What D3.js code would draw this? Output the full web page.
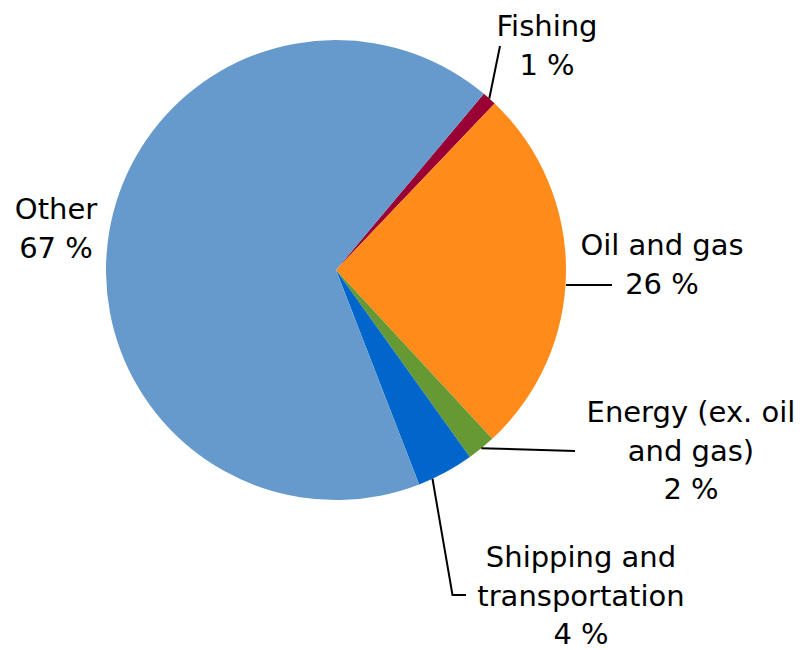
<!DOCTYPE html>
<html>
<head>
<meta charset="utf-8">
<script src="https://cdn.jsdelivr.net/npm/d3@7"></script>
<style>
  html, body { margin: 0; padding: 0; background: #fff; }
  svg { display: block; }
  text { font-family: "DejaVu Sans", Verdana, sans-serif; font-size: 29px; fill: #000; }
</style>
</head>
<body>
<svg id="chart" width="806" height="650"></svg>
<script>
// Sectors, in clockwise order from the first slice
const categories = ["Fishing", "Oil and gas", "Energy (ex. oil and gas)", "Shipping and transportation", "Other"];
const shares = [1, 26, 2, 4, 67];
const colors = ["#990033", "#FF8C1A", "#669933", "#0066CC", "#6699CC"];

// Label text lines (category part) per sector
const labelLines = [
  ["Fishing"],
  ["Oil and gas"],
  ["Energy (ex. oil", "and gas)"],
  ["Shipping and", "transportation"],
  ["Other"]
];

const width = 806, height = 650;
const cx = 336, cy = 270, radius = 230;
const startDeg = 40;

const svg = d3.select("#chart");
const g = svg.append("g").attr("transform", `translate(${cx},${cy})`);

const pie = d3.pie()
  .value(d => d.value)
  .sort(null)
  .startAngle(startDeg * Math.PI / 180)
  .endAngle((startDeg + 360) * Math.PI / 180);

const data = categories.map((c, i) => ({ name: c, value: shares[i], color: colors[i], lines: labelLines[i] }));
const arcs = pie(data);

const arc = d3.arc().innerRadius(0).outerRadius(radius);

g.selectAll("path.slice")
  .data(arcs)
  .join("path")
  .attr("class", "slice")
  .attr("d", arc)
  .attr("fill", d => d.data.color);

// Label placement: centre x and first baseline, plus leader path (relative to the arc edge)
const lineH = 38.5;
const layout = {
  "Fishing": { x: 547, y: 36, leader: d => [edge(d, 0.5, 0), [500, 46]] },
  "Oil and gas": { x: 662, y: 255, leader: d => [[cx + radius, 285], [612, 285]] },
  "Energy (ex. oil and gas)": { x: 691, y: 422, leader: d => [edge(d, 0.5, 0), [575, 451]] },
  "Shipping and transportation": { x: 581, y: 567, leader: d => [edge(d, 0.75, 0), [452.5, 595], [466, 595]] },
  "Other": { x: 56, y: 219, leader: null }
};

// Point on the pie rim at a fraction through a slice, offset outwards by `out` px
function edge(d, frac, out) {
  const a = d.startAngle + (d.endAngle - d.startAngle) * frac;
  const r = radius + out;
  return [cx + r * Math.sin(a), cy - r * Math.cos(a)];
}

const fmt = v => `${d3.format(".0f")(v)} %`;

arcs.forEach(d => {
  const L = layout[d.data.name];
  if (L.leader) {
    svg.append("path")
      .attr("d", d3.line()(L.leader(d)))
      .attr("fill", "none")
      .attr("stroke", "#000")
      .attr("stroke-width", 2);
  }
  const lines = d.data.lines.concat([fmt(d.data.value)]);
  const t = svg.append("text").attr("text-anchor", "middle");
  lines.forEach((s, i) => {
    t.append("tspan").attr("x", L.x).attr("y", L.y + i * lineH).text(s);
  });
});
</script>
</body>
</html>
